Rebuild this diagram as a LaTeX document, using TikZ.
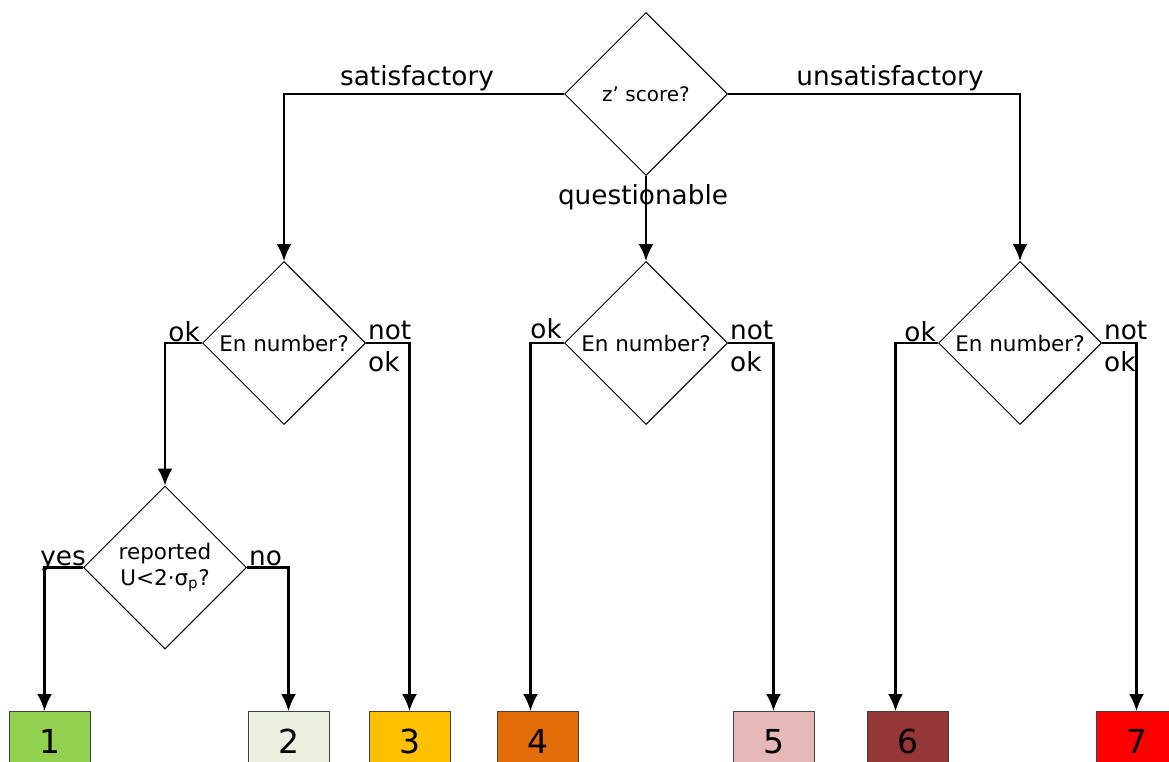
\documentclass[tikz,border=0pt]{standalone}
\usepackage{fontspec}
\setmainfont{DejaVu Sans}
\usetikzlibrary{positioning}
\usetikzlibrary{shapes.geometric}
\usetikzlibrary{arrows.meta}
\definecolor{verde}{HTML}{92D050}
\definecolor{verdino}{HTML}{EBF1DE}
\definecolor{giallo}{HTML}{FFC000}
\definecolor{arancio}{HTML}{E36C09}
\definecolor{rosa}{HTML}{E6B9B8}
\definecolor{marrone}{HTML}{953735}
\definecolor{rosso}{HTML}{FF0000}

\begin{document}
\begin{tikzpicture}[x=1pt,y=-1pt,
condiz/.style={draw,diamond,line width=1pt,minimum width=163pt,minimum height=163pt,inner sep=0pt,align=center,font=\fontsize{21.5}{26}\selectfont},
esito/.style={draw=black!75,line width=0.8pt,minimum width=81pt,minimum height=60pt,anchor=north,font=\fontsize{33}{33}\selectfont},
freccia/.style={-{Latex[length=17pt,width=15pt]},line width=2.2pt},
ramo/.style={font=\fontsize{26.3}{30}\selectfont,inner sep=2pt},
affermativo/.style={ramo,anchor=base east,yshift=2pt},
negativo/.style={ramo,anchor=base west,yshift=4pt},
negativoB/.style={ramo,anchor=base west,yshift=-28pt}
]
\useasboundingbox (0,0) rectangle (1169,762);
\clip (0,0) rectangle (1169,762);
\node[condiz,font=\fontsize{20}{24}\selectfont](z) at (646,94){z’ score?};
%--
\node[condiz,below=85pt of z](en2){En number?};
\node[condiz,left=198pt of en2](en1){En number?};
\node[condiz,right=210pt of en2](en3){En number?};
\draw [freccia] (z.west) -| (en1.north);
\draw [freccia] (z.south) -- (en2.north);
\draw [freccia] (z.east) -| (en3.north);
\node[ramo,anchor=south] (sat) at (417,93){satisfactory};
\node[ramo] (que) at (643,197){questionable};
\node[ramo,anchor=south] (uns) at (890,93){unsatisfactory};
%--
\node[condiz](rep) at (165,567.5){reported\\U<2·σ\textsubscript{p}?};
\draw [freccia] (en1.west) -| (rep.north);
\node[affermativo] (ok1) at (en1.west){ok};
\node[negativo] (not1) at (en1.east){not};
\node[negativoB] (nok1) at (en1.east){ok};
%--
\node[esito,fill=verde] (b1) at (49.5,711){1};
\node[esito,fill=verdino] (b2) at (288.5,711){2};
\node[esito,fill=giallo] (b3) at (409.5,711){3};
\node[esito,fill=arancio] (b4) at (537.5,711){4};
\node[esito,fill=rosa] (b5) at (773.5,711){5};
\node[esito,fill=marrone] (b6) at (907.5,711){6};
\node[esito,fill=rosso] (b7) at (1136.5,711){7};
%--
\draw [freccia] (rep.west) -| ([xshift=-5pt]b1.north);
\draw [freccia] (rep.east) -| (b2.north);
\node[affermativo,xshift=5pt] (si) at (rep.west){yes};
\node[negativo,yshift=-2pt] (no) at (rep.east){no};
\draw [freccia] (en1.east) -| (b3.north);
%--
\draw [freccia] (en2.west) -| ([xshift=-7pt]b4.north);
\draw [freccia] (en2.east) -| (b5.north);
\node[affermativo,yshift=3pt] (ok2) at (en2.west){ok};
\node[negativo] (not2) at (en2.east){not};
\node[negativoB] (nok2) at (en2.east){ok};
%--
\draw [freccia] (en3.west) -| ([xshift=-12pt]b6.north);
\draw [freccia] (en3.east) -| (b7.north);
\node[affermativo] (ok3) at (en3.west){ok};
\node[negativo] (not3) at (en3.east){not};
\node[negativoB] (nok3) at (en3.east){ok};
\end{tikzpicture}
\end{document}
